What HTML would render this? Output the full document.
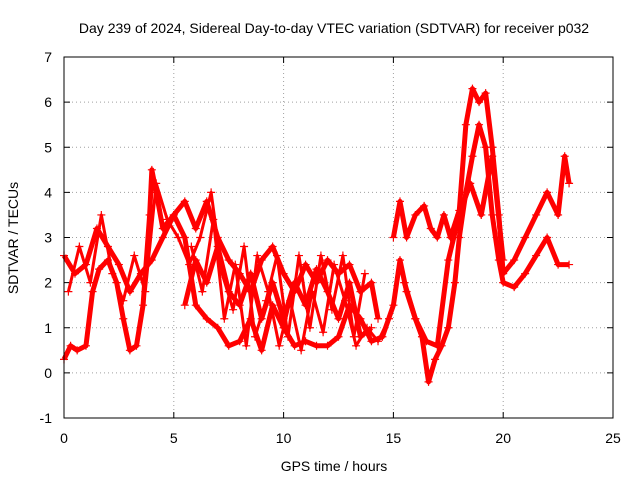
<!DOCTYPE html>
<html><head><meta charset="utf-8"><style>
body{margin:0;background:#fff}
svg{display:block;font-family:"Liberation Sans",sans-serif}
</style></head><body>
<svg id="chart" width="640" height="480" viewBox="0 0 640 480">
<rect width="640" height="480" fill="#fff"/>
<text x="334" y="33" font-size="14" text-anchor="middle">Day 239 of 2024, Sidereal Day-to-day VTEC variation (SDTVAR) for receiver p032</text>
<text x="334" y="471" font-size="14" text-anchor="middle">GPS time / hours</text>
<text transform="translate(18,238) rotate(-90)" font-size="14" text-anchor="middle">SDTVAR / TECUs</text>
<g id="grid"></g>
<g id="ticks"></g>
<g id="series"></g>
<rect x="64" y="57" width="549" height="361" fill="none" stroke="#000" stroke-width="1"/>
</svg>
<script>
const xTicks=[0,5,10,15,20,25];
const yTicks=[-1,0,1,2,3,4,5,6,7];
const trackA_t=[0,0.3,0.6,1,1.3,1.6,2,2.4,2.7,3,3.3,3.6,3.9,4,4.2,4.5,5,5.5,6,6.5,7,7.5,8,8.5,9,9.5,10,10.5,11,11.5,12,12.5,13,13.5,14,14.5,15,15.3,15.6,16,16.3,16.6,16.9,17.2,17.5,17.8,18,18.3,18.6,18.9,19.2,19.5,19.8,20,20.5,21,21.5,22,22.5,23];
const trackA_v=[0.3,0.6,0.5,0.6,1.8,2.3,2.5,2.0,1.2,0.5,0.6,1.5,3.5,4.5,4.0,3.2,3.5,3.0,1.5,1.2,1.0,0.6,0.7,1.2,0.5,1.5,1.0,0.6,0.7,0.6,0.6,0.8,1.5,1.2,0.7,0.8,1.5,2.5,1.8,1.2,0.8,-0.2,0.3,0.6,1.0,2.0,3.0,4.0,4.8,5.5,5.0,3.5,2.5,2.0,1.9,2.2,2.6,3.0,2.4,2.4];
const trackB_t=[0,0.5,1,1.5,2,2.5,3,3.5,4,4.5,5,5.5,6,6.5,7,7.5,8,8.5,9,9.5,10,10.5,11,11.5,12,12.5,13,13.5,14,14.3];
const trackB_v=[2.6,2.2,2.4,3.2,2.8,2.4,1.8,2.2,2.5,3.0,3.5,3.8,3.2,3.8,3.0,2.5,2.2,1.8,2.5,2.8,2.2,1.8,2.4,2.0,2.5,2.2,2.4,1.8,2.0,1.2];
const trackC_t=[15,15.3,15.6,16,16.4,16.7,17,17.3,17.6,18,18.3,18.6,18.9,19.2,19.5,19.8,20,20.5,21,21.5,22,22.5,22.8,23];
const trackC_v=[3.0,3.8,3.0,3.5,3.7,3.2,3.0,3.5,3.0,3.6,5.5,6.3,6.0,6.2,5.0,3.5,2.2,2.5,3.0,3.5,4.0,3.5,4.8,4.2];
const trackD_t=[5.5,6,6.5,7,7.5,8,8.5,9,9.5,10,10.5,11,11.5,12,12.5,13,13.5,14];
const trackD_v=[1.5,2.5,2.0,2.8,1.8,1.5,2.2,1.2,2.0,1.2,2.0,1.5,2.3,1.8,1.2,2.0,0.8,1.0];
const trackE_t=[15.5,16,16.5,17,17.5,18,18.5,19,19.5,20];
const trackE_v=[2.0,1.2,0.7,0.6,2.5,3.5,4.2,3.5,4.8,2.5];
const trackF_t=[0.2,0.7,1.2,1.7,2.2,2.7,3.2,3.7,4.2,4.7,5.2,5.7,6.2,6.7,7.2,7.7,8.2,8.7,9.2,9.7,10.2,10.7,11.2,11.7,12.2,12.7,13.2,13.7];
const trackF_v=[1.8,2.8,2.0,3.5,2.2,1.6,2.6,1.8,4.2,3.4,3.0,2.4,3.0,4.0,2.2,1.4,2.8,0.8,1.6,2.6,0.8,2.6,1.0,2.6,1.4,2.6,0.8,2.2];
const trackG_t=[5.8,6.3,6.8,7.3,7.8,8.3,8.8,9.3,9.8,10.3,10.8,11.3,11.8,12.3,12.8,13.3,13.8,14.3,14.8];
const trackG_v=[2.8,1.8,3.4,1.2,2.4,0.6,2.6,1.8,0.6,1.6,0.5,1.8,0.9,2.4,1.6,0.6,1.0,0.7,1.2];
const X0=64,X1=613,Y0=418,Y1=57;
const sx=t=>X0+(t-0)/(25-0)*(X1-X0);
const sy=v=>Y0-(v+1)/(7+1)*(Y0-Y1);
const NS="http://www.w3.org/2000/svg";
const grid=document.getElementById('grid'),ticks=document.getElementById('ticks'),ser=document.getElementById('series');
function mk(tag,attrs,parent){const e=document.createElementNS(NS,tag);for(const k in attrs)e.setAttribute(k,attrs[k]);parent.appendChild(e);return e;}
xTicks.forEach(t=>{
  const x=sx(t);
  if(t>0&&t<25){const g=mk('line',{x1:x,x2:x,y1:Y1,y2:Y0,stroke:'#a0a0a0','stroke-dasharray':'1,3'},grid);
  
  }
  mk('line',{x1:x,x2:x,y1:Y0,y2:Y0-6,stroke:'#000'},ticks);
  mk('line',{x1:x,x2:x,y1:Y1,y2:Y1+6,stroke:'#000'},ticks);
  const l=mk('text',{x:x,y:443,'font-size':14,'text-anchor':'middle'},ticks);l.textContent=t;
  
  
});
yTicks.forEach(v=>{
  const y=sy(v);
  if(v>-1&&v<7){const g=mk('line',{x1:X0,x2:X1,y1:y,y2:y,stroke:'#a0a0a0','stroke-dasharray':'1,3'},grid);
  
  }
  mk('line',{x1:X0,x2:X0+6,y1:y,y2:y,stroke:'#000'},ticks);
  mk('line',{x1:X1,x2:X1-6,y1:y,y2:y,stroke:'#000'},ticks);
  const l=mk('text',{x:52,y:y+5,'font-size':14,'text-anchor':'end'},ticks);l.textContent=v;
  
  
});
[[trackA_t,trackA_v],[trackB_t,trackB_v],[trackC_t,trackC_v],[trackD_t,trackD_v],[trackE_t,trackE_v],[trackF_t,trackF_v],[trackG_t,trackG_v]].forEach((s,i)=>{
  const pts=s[0].map((t,j)=>sx(t)+','+sy(s[1][j])).join(' ');
  const pl=mk('polyline',{points:pts,fill:'none',stroke:'#f00','stroke-width':i>4?3:5,'stroke-linejoin':'round'},ser);
  
  
  s[0].forEach((t,j)=>{
    const x=sx(t),y=sy(s[1][j]);
    const p=mk('path',{d:`M${x-4},${y}H${x+4}M${x},${y-4}V${y+4}`,stroke:'#f00','stroke-width':1.2},ser);
    
    
  });
});
</script>
</body></html>
